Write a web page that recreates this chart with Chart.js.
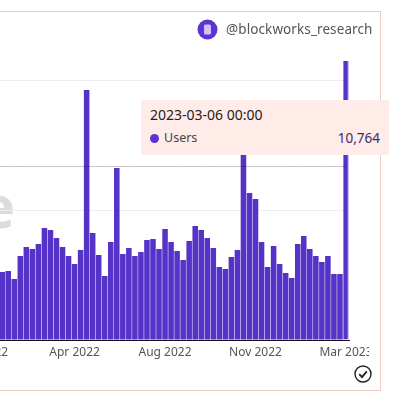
<!DOCTYPE html>
<html>
<head>
<meta charset="utf-8">
<script src="https://cdn.jsdelivr.net/npm/chart.js@4"></script>
<style>
  html, body { margin: 0; padding: 0; width: 395px; height: 395px; overflow: hidden; background: #fff; }
  body { position: relative; font-family: "Noto Sans", sans-serif; }
  .frame { position: absolute; left: -40px; top: 11px; width: 419px; height: 378px; border: 1px solid #f2c9c5; }
  .watermark { position: absolute; left: -20px; top: 160px; font-size: 59px; line-height: 90px; font-weight: 700; color: #dcdcdc; }
  .chart-box { position: absolute; left: -37px; top: 0; width: 406px; height: 365px; }
  .handle { position: absolute; left: 226px; top: 20px; font-size: 13.5px; line-height: 19px; color: #555; letter-spacing: 0.1px; }
  .avatar { position: absolute; left: 197px; top: 19px; }
  .check { position: absolute; left: 354px; top: 365px; }
  .tip { position: absolute; left: 141px; top: 100px; width: 248px; height: 55px; background: #ffebe8; border-radius: 2px; color: #2b2b2b; }
  .tip-title { position: absolute; left: 9px; top: 6px; font-size: 14px; line-height: 18px; white-space: nowrap; color: #222; }
  .tip-dot { position: absolute; left: 9px; top: 34px; width: 9px; height: 9px; border-radius: 50%; background: #5a35c9; }
  .tip-name { position: absolute; left: 23px; top: 29px; font-size: 12.5px; line-height: 18px; color: #444; }
  .tip-value { position: absolute; right: 9px; top: 29px; font-size: 13.5px; line-height: 18px; color: #3d2a6e; }
</style>
</head>
<body>
<div class="frame"></div>
<div class="watermark">e</div>
<div class="chart-box"><canvas id="usersChart"></canvas></div>

<svg class="avatar" width="21" height="21" viewBox="0 0 21 21">
  <circle cx="10.5" cy="10.5" r="10" fill="#5a35d0"></circle>
  <rect x="7" y="5.5" width="7" height="10" rx="1.5" fill="#cfc3f3"></rect>
</svg>
<div class="handle">@blockworks_research</div>

<svg class="check" width="18" height="18" viewBox="0 0 18 18">
  <circle cx="9" cy="9" r="8" fill="none" stroke="#222" stroke-width="1.4"></circle>
  <path d="M5.2 9.2 L8 12 L12.8 6.4" fill="none" stroke="#222" stroke-width="1.9"></path>
</svg>

<div class="tip">
  <div class="tip-title">2023-03-06 00:00</div>
  <div class="tip-dot"></div>
  <div class="tip-name">Users</div>
  <div class="tip-value">10,764</div>
</div>

<script>
// Weekly buckets, only the ones with a label get text on the axis
const weeks = [
  "", "", "", "Jan 2022", "", "", "", "", "", "", "", "", "", "", "", "",
  "", "", "Apr 2022", "", "", "", "", "", "", "", "", "", "", "", "", "",
  "", "Aug 2022", "", "", "", "", "", "", "", "", "", "", "", "", "", "",
  "Nov 2022", "", "", "", "", "", "", "", "", "", "", "", "", "", "", "Mar 2023",
];

// The first six weeks are cropped out of the reference
const users = [
  null, null, null, null, null, null,
  2623, 2662, 2353, 3241, 3588, 3511, 3704, 4321, 4244, 3935,
  3588, 3241, 2932, 3472, 9645, 4128, 3279, 2469, 3781, 6636,
  3318, 3549, 3241, 3395, 3858, 3897, 3511, 4282, 3781, 3434,
  3086, 3819, 4398, 4244, 3935, 3549, 2816, 2739, 3202, 3472,
  7330, 5671, 5440, 3781, 2816, 3626, 2932, 2585, 2392, 3704,
  4012, 3511, 3241, 3009, 3241, 2546, 2546, 10764,
];

const yTicks = [0, 5000, 10000];
const crosshairValue = 6692;

const barColor = "#5633c8";
const lastBarBorder = "#a48fe8";

const ctx = document.getElementById("usersChart").getContext("2d");

new Chart(ctx, {
  type: "bar",
  data: {
    labels: weeks,
    datasets: [
      {
        type: "line",
        label: "Crosshair",
        data: weeks.map(() => crosshairValue),
        borderColor: "rgba(0, 0, 0, 0.22)",
        borderWidth: 1,
        pointRadius: 0,
        order: 0,
      },
      {
        label: "Users",
        data: users,
        backgroundColor: barColor,
        borderColor: lastBarBorder,
        // Hovered bar gets a light edge on its right side only
        borderWidth: (c) =>
          c.dataIndex === weeks.length - 1 ? { right: 1, left: 0, top: 0, bottom: 0 } : 0,
        barPercentage: 0.92,
        categoryPercentage: 1,
        order: 1,
      },
    ],
  },
  options: {
    responsive: true,
    maintainAspectRatio: false,
    animation: false,
    layout: {
      padding: { left: 0, right: 20, top: 61, bottom: 0 },
    },
    plugins: {
      legend: { display: false },
      tooltip: { enabled: false },
    },
    scales: {
      x: {
        grid: { display: false, drawTicks: false },
        border: { color: "#111", width: 1 },
        // The last label runs past the plot and gets cut by the canvas edge, no room is kept for it
        afterFit: (scale) => {
          scale.height = 25;
          scale.paddingLeft = 0;
          scale.paddingRight = 0;
        },
        ticks: {
          autoSkip: false,
          maxRotation: 0,
          color: "#555",
          padding: 5,
          font: { family: "Noto Sans", size: 12 },
        },
      },
      y: {
        min: 0,
        max: 10764,
        afterFit: (scale) => {
          scale.width = 0;
        },
        afterBuildTicks: (scale) => {
          scale.ticks = yTicks.map((value) => ({ value }));
        },
        grid: { color: "#eeeeee", drawTicks: false },
        border: { display: false },
        ticks: { display: false },
      },
    },
  },
});
</script>
</body>
</html>
